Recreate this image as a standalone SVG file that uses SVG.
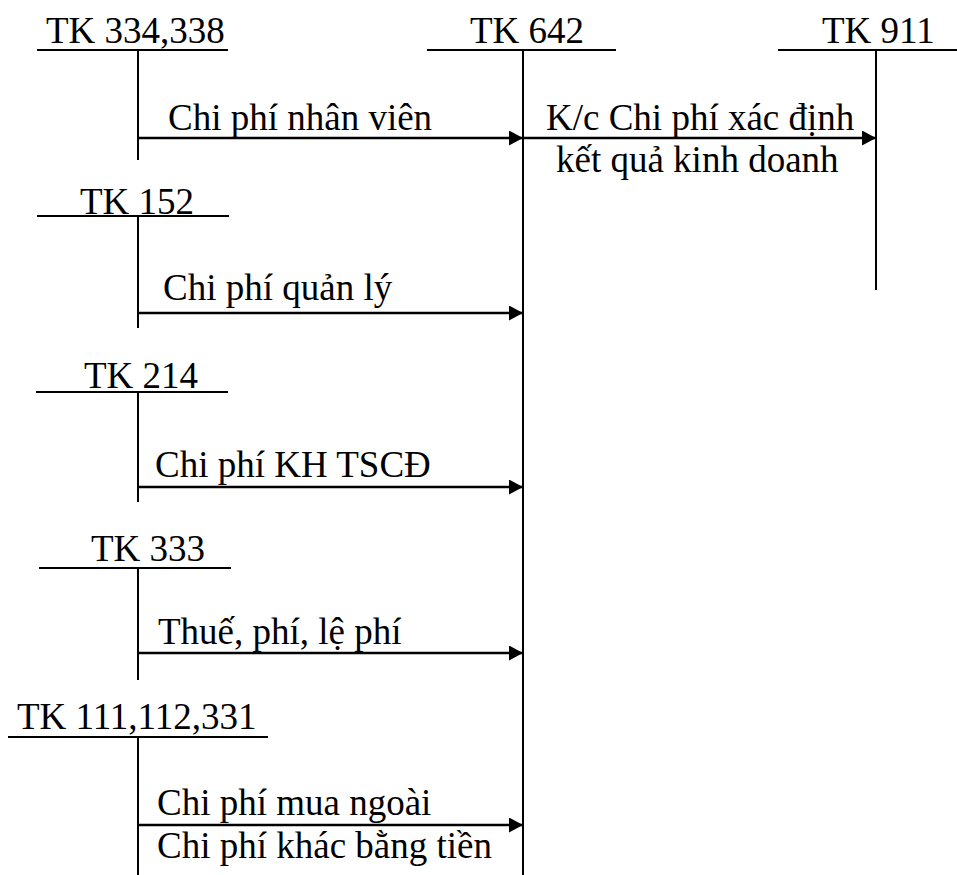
<svg xmlns="http://www.w3.org/2000/svg" width="957" height="875" viewBox="0 0 957 875">
<style>
text{font-family:"Liberation Serif","Times New Roman",serif;font-size:37px;fill:#000}
line{stroke:#000;stroke-width:2}
.c{stroke-width:2.5}
</style>
<defs>
<marker id="ah" markerWidth="14" markerHeight="15" refX="14" refY="7.5" orient="auto" markerUnits="userSpaceOnUse">
<path d="M0,0 L14,7.5 L0,15 Z" fill="#000"/>
</marker>
</defs>
<rect width="957" height="875" fill="#fff"/>
<g id="tk334">
<text x="46" y="43">TK 334,338</text>
<line x1="37" y1="50" x2="228" y2="50"/>
<line x1="138" y1="50" x2="138" y2="160"/>
</g>
<g id="tk642">
<text x="470" y="43">TK 642</text>
<line x1="427" y1="50" x2="616" y2="50"/>
<line x1="523" y1="50" x2="523" y2="875"/>
</g>
<g id="tk911">
<text x="822" y="43">TK 911</text>
<line x1="778" y1="50" x2="957" y2="50"/>
<line x1="876" y1="50" x2="876" y2="290"/>
</g>
<g id="tk152">
<text x="80" y="214">TK 152</text>
<line x1="37" y1="216" x2="229" y2="216"/>
<line x1="138" y1="216" x2="138" y2="328"/>
</g>
<g id="tk214">
<text x="84" y="388">TK 214</text>
<line x1="36" y1="392" x2="228" y2="392"/>
<line x1="138" y1="392" x2="138" y2="502"/>
</g>
<g id="tk333">
<text x="91" y="561">TK 333</text>
<line x1="39" y1="568" x2="231" y2="568"/>
<line x1="138" y1="568" x2="138" y2="680"/>
</g>
<g id="tk111">
<text x="17" y="729">TK 111,112,331</text>
<line x1="8" y1="737" x2="268" y2="737"/>
<line x1="138" y1="737" x2="138" y2="875"/>
</g>
<g id="connectors">
<line class="c" x1="138" y1="138" x2="523" y2="138" marker-end="url(#ah)"/>
<text x="168" y="130">Chi phí nhân viên</text>
<line class="c" x1="523" y1="138" x2="876" y2="138" marker-end="url(#ah)"/>
<text x="546" y="130">K/c Chi phí xác định</text>
<text x="556" y="172">kết quả kinh doanh</text>
<line class="c" x1="138" y1="313" x2="523" y2="313" marker-end="url(#ah)"/>
<text x="163" y="300">Chi phí quản lý</text>
<line class="c" x1="138" y1="487" x2="523" y2="487" marker-end="url(#ah)"/>
<text x="155" y="477">Chi phí KH TSCĐ</text>
<line class="c" x1="138" y1="653" x2="523" y2="653" marker-end="url(#ah)"/>
<text x="158" y="644">Thuế, phí, lệ phí</text>
<line class="c" x1="138" y1="825" x2="523" y2="825" marker-end="url(#ah)"/>
<text x="157" y="815">Chi phí mua ngoài</text>
<text x="157" y="858">Chi phí khác bằng tiền</text>
</g>
</svg>
